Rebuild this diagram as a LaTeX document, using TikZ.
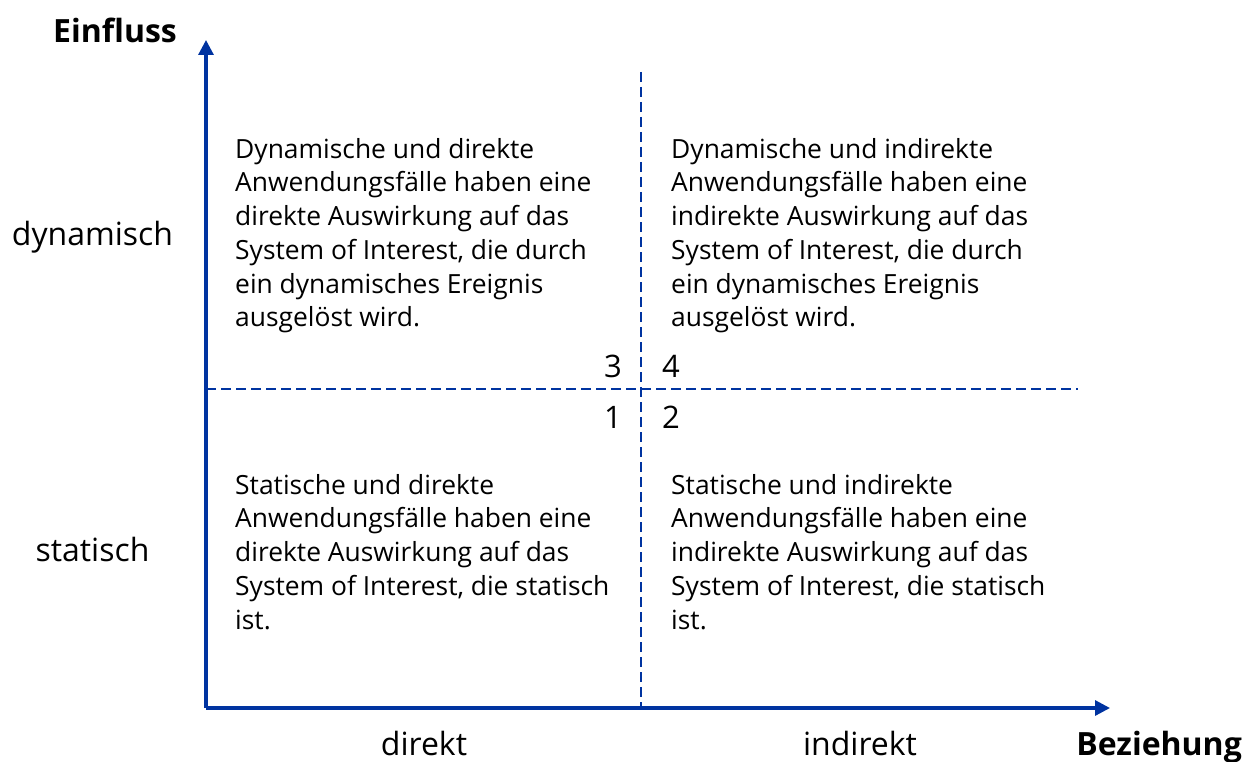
\documentclass[tikz,border=0pt]{standalone}
\usepackage{fontspec}
\setmainfont{Open Sans}
\usetikzlibrary{arrows.meta}
\definecolor{axisblue}{RGB}{0,51,160}
\tikzset{
  axisline/.style={draw=axisblue, line width=3.2pt, -{Triangle[length=15pt,width=15pt]}},
  divline/.style={draw=axisblue, line width=2.2pt, dash pattern=on 10pt off 5pt},
  body/.style={inner sep=0pt, anchor=north west, align=left, font={\fontsize{26.4}{33.7}\selectfont}},
  lbl/.style={inner sep=0pt, anchor=base, font={\fontsize{32}{38}\selectfont}},
  bold/.style={inner sep=0pt, font={\fontsize{32}{38}\selectfont\bfseries}},
  num/.style={inner sep=0pt, anchor=base, font={\fontsize{31}{36}\selectfont}}
}
\begin{document}
\begin{tikzpicture}[x=1pt,y=-1pt]
\useasboundingbox (0,0) rectangle (1252,762);
% coordinates
\coordinate (O) at (206,708);
\coordinate (ytip) at (206,40);
\coordinate (xtip) at (1110,708);
\coordinate (vtop) at (641,72);
\coordinate (vbot) at (641,708);
\coordinate (hl) at (206,389);
\coordinate (hr) at (1078,389);
% divider lines
\draw[divline] (vtop) -- (vbot);
\draw[divline] (hl) -- (hr);
% axes
\draw[axisline] (O) -- (ytip);
\draw[axisline] (O) -- (xtip);
% axis titles
\node[bold, anchor=base west] (einfluss) at (53,43) {Einfluss};
\node[bold, anchor=base east] (beziehung) at (1242,755) {Beziehung};
% axis labels
\node[lbl] (dyn) at (92.5,245) {dynamisch};
\node[lbl] (stat) at (92.5,561) {statisch};
\node[lbl] (dir) at (424,755) {direkt};
\node[lbl] (indir) at (860,755) {indirekt};
% quadrant numbers
\node[num] (n3) at (613,377) {3};
\node[num] (n4) at (671,377) {4};
\node[num] (n1) at (613,428) {1};
\node[num] (n2) at (671,428) {2};
% quadrant texts
\node[body] (q3) at (235,138) {Dynamische und direkte\\Anwendungsfälle haben eine\\direkte Auswirkung auf das\\System of Interest, die durch\\ein dynamisches Ereignis\\ausgelöst wird.};
\node[body] (q4) at (671,138) {Dynamische und indirekte\\Anwendungsfälle haben eine\\indirekte Auswirkung auf das\\System of Interest, die durch\\ein dynamisches Ereignis\\ausgelöst wird.};
\node[body] (q1) at (235,474) {Statische und direkte\\Anwendungsfälle haben eine\\direkte Auswirkung auf das\\System of Interest, die statisch\\ist.};
\node[body] (q2) at (671,474) {Statische und indirekte\\Anwendungsfälle haben eine\\indirekte Auswirkung auf das\\System of Interest, die statisch\\ist.};
\end{tikzpicture}
\end{document}
